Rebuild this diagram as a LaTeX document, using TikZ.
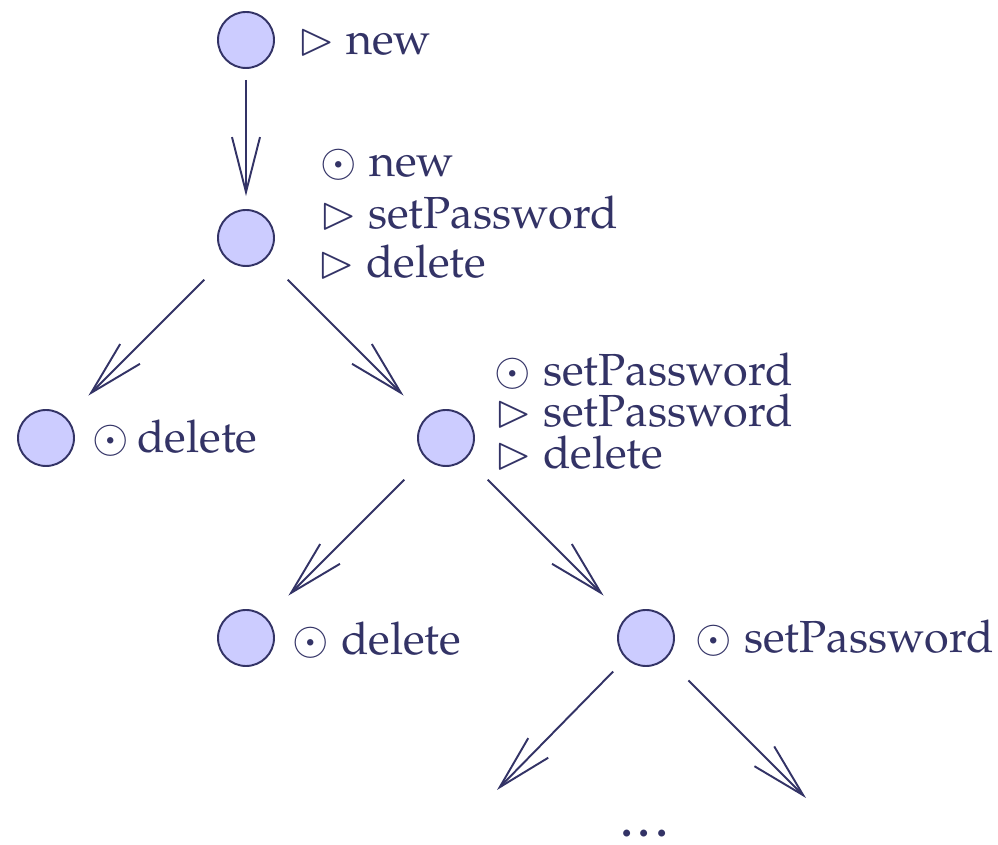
\documentclass[tikz,border=0pt]{standalone}
\usepackage[T1]{fontenc}
\usepackage{mathpazo}
\usepackage{amssymb}
\usetikzlibrary{arrows.meta}
\definecolor{ink}{RGB}{51,51,102}
\definecolor{statefill}{RGB}{204,204,255}
\tikzset{
  st/.style={circle,draw=ink,fill=statefill,line width=1.1pt,minimum size=1.12cm,inner sep=0pt},
  lbl/.style={anchor=base west,inner sep=0pt,text=ink},
  tr/.style={draw=ink,line width=1.1pt,-{Straight Barb[length=1.1cm,width=0.56cm]}},
}
\begin{document}
\begin{tikzpicture}[font=\fontsize{25.6}{30}\selectfont]
\useasboundingbox(0,0)rectangle(19.96,-16.9);
% states
\node[st](n0)at(4.92,-0.8){};
\node[st](n1)at(4.92,-4.76){};
\node[st](n2)at(0.92,-8.76){};
\node[st](n3)at(8.92,-8.76){};
\node[st](n4)at(4.92,-12.76){};
\node[st](n5)at(12.92,-12.76){};
\coordinate(c1)at(9.94,-15.8);
\coordinate(c2)at(16.12,-15.96);
% labels
\node[lbl](l0)at(5.96,-1.1){$\rhd$ new};
\node[lbl](l1a)at(6.4,-3.54){$\odot$ new};
\node[lbl](l1b)at(6.4,-4.58){$\rhd$ setPassword};
\node[lbl](l1c)at(6.36,-5.56){$\rhd$ delete};
\node[lbl](l2)at(1.84,-9.06){$\odot$\,delete};
\node[lbl](l3a)at(9.88,-7.72){$\odot$ setPassword};
\node[lbl](l3b)at(9.9,-8.54){$\rhd$ setPassword};
\node[lbl](l3c)at(9.9,-9.38){$\rhd$ delete};
\node[lbl](l4)at(5.84,-13.1){$\odot$ delete};
\node[lbl](l5)at(13.9,-13.06){$\odot$ setPassword};
\node[anchor=base,inner sep=0pt,text=ink](dots)at(12.96,-16.74){\textbf{\dots}};
% transitions
\draw[tr,shorten <=0.22cm,shorten >=0.26cm](n0)--(n1);
\draw[tr,shorten <=0.6cm,shorten >=0.62cm](n1)--(n2);
\draw[tr,shorten <=0.6cm,shorten >=0.62cm](n1)--(n3);
\draw[tr,shorten <=0.6cm,shorten >=0.62cm](n3)--(n4);
\draw[tr,shorten <=0.6cm,shorten >=0.62cm](n3)--(n5);
\draw[tr,shorten <=0.36cm](n5)--(c1);
\draw[tr,shorten <=0.62cm](n5)--(c2);
\end{tikzpicture}
\end{document}
